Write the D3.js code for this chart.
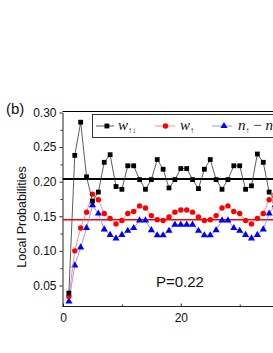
<!DOCTYPE html>
<html>
<head>
<meta charset="utf-8">
<script src="https://cdn.jsdelivr.net/npm/d3@7/dist/d3.min.js"></script>
<style>
  body { margin: 0; background: #fff; }
  svg { display: block; }
</style>
</head>
<body>
<script>
// sites 1..36 (the chart is cut at the right edge)
let sites = d3.range(1, 37);
let wUpDown = [0.039, 0.238, 0.286, 0.207, 0.172, 0.185, 0.228, 0.239, 0.193, 0.189,
               0.223, 0.223, 0.203, 0.189, 0.203, 0.232, 0.218, 0.191, 0.203, 0.219,
               0.219, 0.203, 0.190, 0.218, 0.232, 0.203, 0.189, 0.203, 0.223, 0.223,
               0.189, 0.194, 0.240, 0.228, 0.185, 0.172];
let wUp = [0.034, 0.100, 0.133, 0.156, 0.182, 0.174, 0.154, 0.147, 0.139, 0.144,
           0.154, 0.157, 0.165, 0.162, 0.151, 0.145, 0.144, 0.149, 0.156, 0.159,
           0.159, 0.156, 0.149, 0.144, 0.145, 0.151, 0.162, 0.165, 0.157, 0.154,
           0.144, 0.139, 0.147, 0.154, 0.174, 0.182];
let nDiff = [0.027, 0.079, 0.105, 0.133, 0.166, 0.154, 0.131, 0.123, 0.118, 0.123,
             0.129, 0.133, 0.144, 0.144, 0.130, 0.1225, 0.1225, 0.129, 0.138, 0.138,
             0.138, 0.138, 0.129, 0.1225, 0.1225, 0.130, 0.144, 0.144, 0.133, 0.129,
             0.123, 0.118, 0.123, 0.131, 0.154, 0.166];
let refBlack = 0.204;
let refRed = 0.145;
let yTicks = [0.05, 0.10, 0.15, 0.20, 0.25, 0.30];
let yMinor = [0.075, 0.125, 0.175, 0.225, 0.275];
let xTicks = [0, 20];
let xMinor = [10, 30];

let svg = d3.select('body').append('svg').attr('width', 273).attr('height', 353);

let padL = 62.5, padT = 111.5, padB = 306.5;
let x = d3.scaleLinear().domain([0, 40]).range([63, 63 + 5.89 * 40]);
let y = d3.scaleLinear().domain([0.0196, 0.30]).range([padB, 112.5]);

svg.append('defs').append('clipPath').attr('id', 'plot')
  .append('rect').attr('x', padL).attr('y', padT).attr('width', 400).attr('height', padB - padT);

// frame
svg.append('line').attr('x1', padL).attr('x2', 400).attr('y1', padT).attr('y2', padT)
  .attr('stroke', '#000').attr('stroke-width', 1);

// y axis
svg.append('g').attr('transform', `translate(${padL},0)`)
  .call(d3.axisLeft(y).tickValues(yTicks).tickSize(3).tickSizeOuter(0).tickPadding(3)
    .tickFormat(d3.format('.2f')));
svg.append('g').attr('transform', `translate(${padL},0)`)
  .call(d3.axisLeft(y).tickValues(yMinor).tickSize(2).tickSizeOuter(0).tickFormat(''))
  .select('.domain').remove();
// x axis
let xAxis = svg.append('g').attr('transform', `translate(0,${padB})`)
  .call(d3.axisBottom(x).tickValues(xTicks).tickSizeInner(-3).tickSizeOuter(0).tickPadding(7)
    .tickFormat(d3.format('d')));
svg.append('g').attr('transform', `translate(0,${padB})`)
  .call(d3.axisBottom(x).tickValues(xMinor).tickSizeInner(-2).tickSizeOuter(0).tickFormat(''))
  .select('.domain').remove();
xAxis.select('.domain').attr('d', `M${padL},0H400`);
svg.selectAll('.tick text').attr('font-family', 'Liberation Sans, Arial, sans-serif')
  .attr('font-size', '12px').attr('fill', '#111');
svg.selectAll('.domain, .tick line').attr('stroke', '#222');

let plot = svg.append('g').attr('clip-path', 'url(#plot)');

// reference lines
plot.append('line').attr('x1', padL).attr('x2', 400)
  .attr('y1', y(refBlack)).attr('y2', y(refBlack)).attr('stroke', '#000').attr('stroke-width', 2);
plot.append('line').attr('x1', padL).attr('x2', 400)
  .attr('y1', y(refRed)).attr('y2', y(refRed)).attr('stroke', '#ff0000').attr('stroke-width', 1.5);

let line = d3.line().x((d, i) => x(sites[i])).y(d => y(d));
let tri = d3.symbol().type(d3.symbolTriangle).size(22);

// blue
plot.append('path').attr('d', line(nDiff)).attr('fill', 'none').attr('stroke', '#7f7fff').attr('stroke-width', 0.8);
plot.selectAll('.tri').data(nDiff).enter().append('path').attr('class', 'tri')
  .attr('d', tri).attr('transform', (d, i) => `translate(${x(sites[i])},${y(d)})`).attr('fill', '#0000ff');
// red
plot.append('path').attr('d', line(wUp)).attr('fill', 'none').attr('stroke', '#ff7070').attr('stroke-width', 0.8);
plot.selectAll('.dot').data(wUp).enter().append('circle').attr('class', 'dot')
  .attr('cx', (d, i) => x(sites[i])).attr('cy', d => y(d)).attr('r', 2.7).attr('fill', '#ff0000');
// black
plot.append('path').attr('d', line(wUpDown)).attr('fill', 'none').attr('stroke', '#333').attr('stroke-width', 0.8);
plot.selectAll('.sq').data(wUpDown).enter().append('rect').attr('class', 'sq')
  .attr('x', (d, i) => x(sites[i]) - 2.4).attr('y', d => y(d) - 2.4)
  .attr('width', 4.8).attr('height', 4.8).attr('fill', '#000');

// legend
let lg = svg.append('g');
lg.append('rect').attr('x', 92.5).attr('y', 114.5).attr('width', 300).attr('height', 23)
  .attr('fill', '#fff').attr('stroke', '#333').attr('stroke-width', 1);
let ly = 126;
lg.append('line').attr('x1', 96).attr('x2', 114).attr('y1', ly).attr('y2', ly).attr('stroke', '#333').attr('stroke-width', 0.8);
lg.append('rect').attr('x', 104.5).attr('y', ly - 2.4).attr('width', 4.8).attr('height', 4.8).attr('fill', '#000');
lg.append('line').attr('x1', 155).attr('x2', 175).attr('y1', ly).attr('y2', ly).attr('stroke', '#ff7070').attr('stroke-width', 0.8);
lg.append('circle').attr('cx', 165.5).attr('cy', ly).attr('r', 2.7).attr('fill', '#ff0000');
lg.append('line').attr('x1', 212).attr('x2', 232).attr('y1', ly).attr('y2', ly).attr('stroke', '#7f7fff').attr('stroke-width', 0.8);
lg.append('path').attr('d', tri).attr('transform', `translate(224,${ly})`).attr('fill', '#0000ff');

function legText(xp, parts) {
  let t = lg.append('text').attr('x', xp).attr('y', ly + 4)
    .attr('font-family', 'Liberation Serif, Times New Roman, serif').attr('font-size', '15px').attr('fill', '#111');
  parts.forEach(p => {
    let s = t.append('tspan').text(p.t);
    if (p.i) s.attr('font-style', 'italic');
    if (p.sub) s.attr('font-size', '8px').attr('dy', 3);
    if (p.up) s.attr('dy', -3);
  });
}
legText(118, [{t: 'w', i: true}, {t: '\u2191\u2193', sub: true}]);
legText(180, [{t: 'w', i: true}, {t: '\u2191', sub: true}]);
legText(238, [{t: 'n', i: true}, {t: '\u2191', sub: true}, {t: ' \u2212 ', up: true}, {t: 'n', i: true}, {t: '\u2193', sub: true}]);

// labels
svg.append('text').attr('transform', 'translate(26,217) rotate(-90)').attr('text-anchor', 'middle')
  .attr('font-family', 'Liberation Sans, Arial, sans-serif').attr('font-size', '12.5px').attr('fill', '#111')
  .text('Local Probabilities');
svg.append('text').attr('x', 6).attr('y', 114)
  .attr('font-family', 'Liberation Sans, Arial, sans-serif').attr('font-size', '15px').attr('fill', '#111')
  .text('(b)');
svg.append('text').attr('x', 156).attr('y', 286.5)
  .attr('font-family', 'Liberation Sans, Arial, sans-serif').attr('font-size', '15px').attr('fill', '#111')
  .text('P=0.22');
</script>
</body>
</html>
